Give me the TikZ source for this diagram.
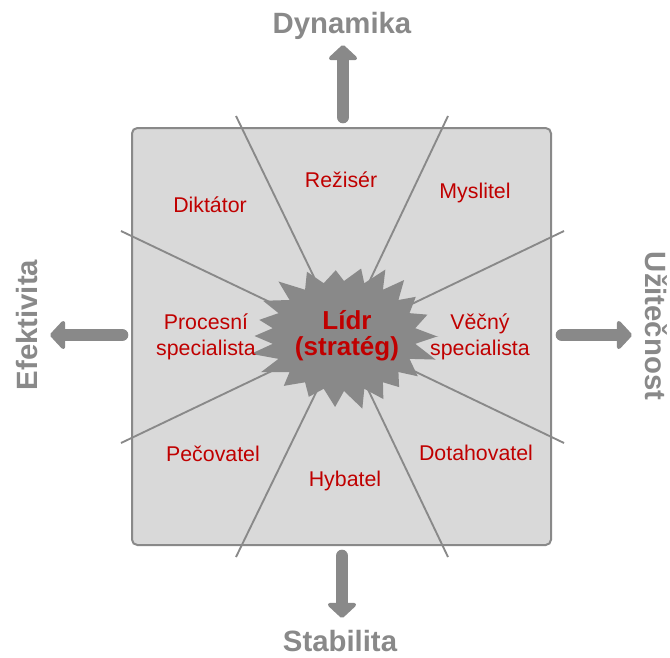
\documentclass[tikz,border=0pt]{standalone}
\usepackage{fontspec}
\setmainfont{Liberation Sans}
\usetikzlibrary{arrows.meta, calc}

\definecolor{axisgray}{HTML}{898989}
\definecolor{boxgray}{HTML}{D9D9D9}
\definecolor{rolered}{HTML}{C00000}

\begin{document}
\begin{tikzpicture}[x=0.75pt, y=-0.75pt]
%
% Skica:
%              Dynamika
%                 ^
%   Diktator   Reziser   Myslitel
% Efektivita <-  Lidr  -> Uzitecnost
%   Pecovatel  Hybatel  Dotahovatel
%                 v
%              Stabilita
%
\tikzstyle{field} = [draw=axisgray, fill=boxgray, line width=1.5pt, rounded corners=4pt]
\tikzstyle{divider} = [draw=axisgray, line width=1.4pt]
\tikzstyle{burst} = [fill=axisgray]
\tikzstyle{role} = [text=rolered, font=\fontsize{16}{19.5}\selectfont, align=center, inner sep=0pt]
\tikzstyle{leader} = [text=rolered, font=\bfseries\fontsize{19.5}{19.5}\selectfont, align=center, inner sep=0pt]
\tikzstyle{axis} = [text=axisgray, font=\bfseries\fontsize{22}{26}\selectfont, inner sep=0pt]
\tikzstyle{arrow} = [draw=axisgray, line width=9.5pt, line cap=round, -{Triangle[round, width=25pt, length=12pt]}]

\useasboundingbox (0,0) rectangle (670,657);

% Field
\draw [field] (132,128) rectangle (551,545);

% Coordinates
\coordinate (hub) at (343,337);
\coordinate (nW) at (236,116);
\coordinate (nE) at (448,116);
\coordinate (sW) at (236,557);
\coordinate (sE) at (448,557);
\coordinate (wN) at (121,231);
\coordinate (wS) at (121,443);
\coordinate (eN) at (564,231);
\coordinate (eS) at (564,443);

\coordinate (upTail) at (343,117);
\coordinate (upTip) at (343,45);
\coordinate (downTail) at (342,556);
\coordinate (downTip) at (342,618);
\coordinate (leftTail) at (122,335);
\coordinate (leftTip) at (50,335);
\coordinate (rightTail) at (562,335);
\coordinate (rightTip) at (632,335);

% Dividers
\foreach \p in {nW,nE,sW,sE,wN,wS,eN,eS}
  \draw [divider] (hub) -- (\p);

% Starburst
\begin{scope}[shift={(344,336)}]
\fill [burst] (92,0) \foreach \a in {0,16.3636,...,344} {
  -- ({(92+5*sin(5*\a+30))*cos(\a+3*sin(3*\a))}, {(70+4*sin(5*\a+30))*sin(\a+3*sin(3*\a))})
  -- ({72*cos(\a+8.18)}, {55*sin(\a+8.18)}) } -- cycle;
\end{scope}

% Nodes
\node (lidr) [leader] at (347,336) {Lídr\\(stratég)};
\node (reziser) [role, anchor=base] at (341,187) {Režisér};
\node (diktator) [role, anchor=base] at (210,212) {Diktátor};
\node (myslitel) [role, anchor=base] at (475,198) {Myslitel};
\node (procesni) [role] at (206,337) {Procesní\\specialista};
\node (vecny) [role] at (480,337) {Věčný\\specialista};
\node (pecovatel) [role, anchor=base] at (213,461) {Pečovatel};
\node (hybatel) [role, anchor=base] at (345,486) {Hybatel};
\node (dotahovatel) [role, anchor=base] at (476,460) {Dotahovatel};

\node (dynamika) [axis, anchor=base] at (342,33) {Dynamika};
\node (stabilita) [axis, anchor=base] at (340,651) {Stabilita};
\node (efektivita) [axis, anchor=base, rotate=90] at (37,325) {Efektivita};
\node (uzitecnost) [axis, anchor=base, rotate=-90] at (645,326) {Užitečnost};

% Arrows
\draw [arrow] (upTail) -- (upTip);
\draw [arrow] (downTail) -- (downTip);
\draw [arrow] (leftTail) -- (leftTip);
\draw [arrow] (rightTail) -- (rightTip);

\end{tikzpicture}
\end{document}
